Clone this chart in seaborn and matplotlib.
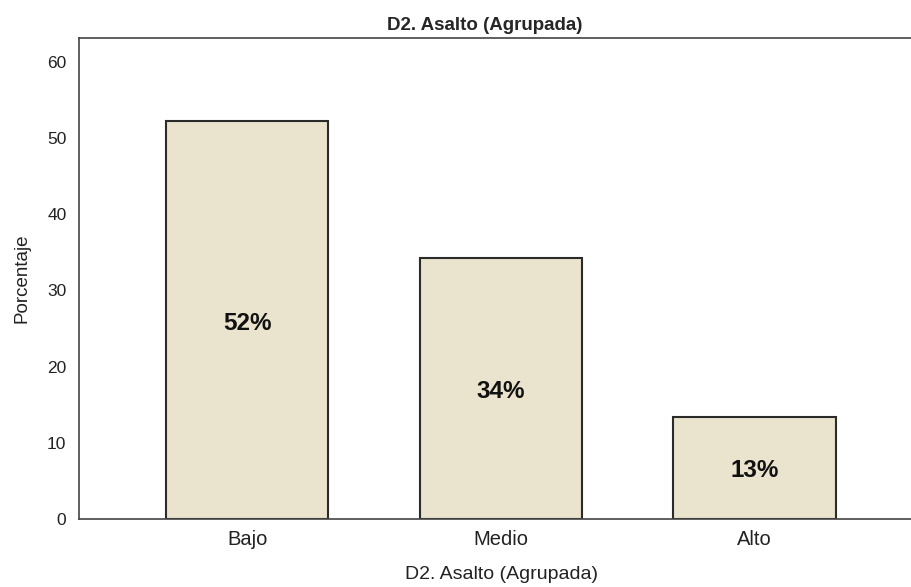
import matplotlib
matplotlib.use("Agg")
import matplotlib.pyplot as plt
import seaborn as sns
import pandas as pd

categories = ["Bajo", "Medio", "Alto"]
percentages = [52.2, 34.3, 13.4]
bar_labels = ["52%", "34%", "13%"]
y_ticks = [0, 10, 20, 30, 40, 50, 60]

df = pd.DataFrame({"cat": categories, "pct": percentages})

sns.set_style("white")
plt.rcParams["font.family"] = ["Liberation Sans", "DejaVu Sans"]

fig = plt.figure(figsize=(9.11, 5.87), dpi=100)
ax = fig.add_axes([0.0867, 0.1158, 0.9133, 0.8195])

sns.barplot(data=df, x="cat", y="pct", order=categories, color="#EAE3CE",
            edgecolor="#2b2b2b", linewidth=1.5, width=0.64, saturation=1, ax=ax)

# percent labels, a bit below the bar middle like the original
for i, (v, lab) in enumerate(zip(percentages, bar_labels)):
    ax.text(i, v / 2 - 0.4, lab, ha="center", va="center", fontsize=17.5,
            fontweight="bold", color="#111111")

ax.set_xlim(-0.663, 2.616)
ax.set_ylim(0, 63.1)
ax.set_yticks(y_ticks)
ax.tick_params(axis="both", length=0, colors="#222222")
ax.tick_params(axis="x", labelsize=14.5, pad=8)
ax.tick_params(axis="y", labelsize=12.5, pad=9)

for s in ["left", "bottom", "top"]:
    ax.spines[s].set_color("#444444")
    ax.spines[s].set_linewidth(1.2)
ax.spines["right"].set_visible(False)

ax.set_xlabel("D2. Asalto (Agrupada)", fontsize=14, color="#222222", labelpad=12)
ax.xaxis.label.set_x(0.508)
ax.set_ylabel("Porcentaje", fontsize=13.5, color="#222222", labelpad=12)
ax.set_title("D2. Asalto (Agrupada)", fontsize=13.5, fontweight="bold", pad=6, x=0.488)

fig.savefig("out.png", dpi=100)
